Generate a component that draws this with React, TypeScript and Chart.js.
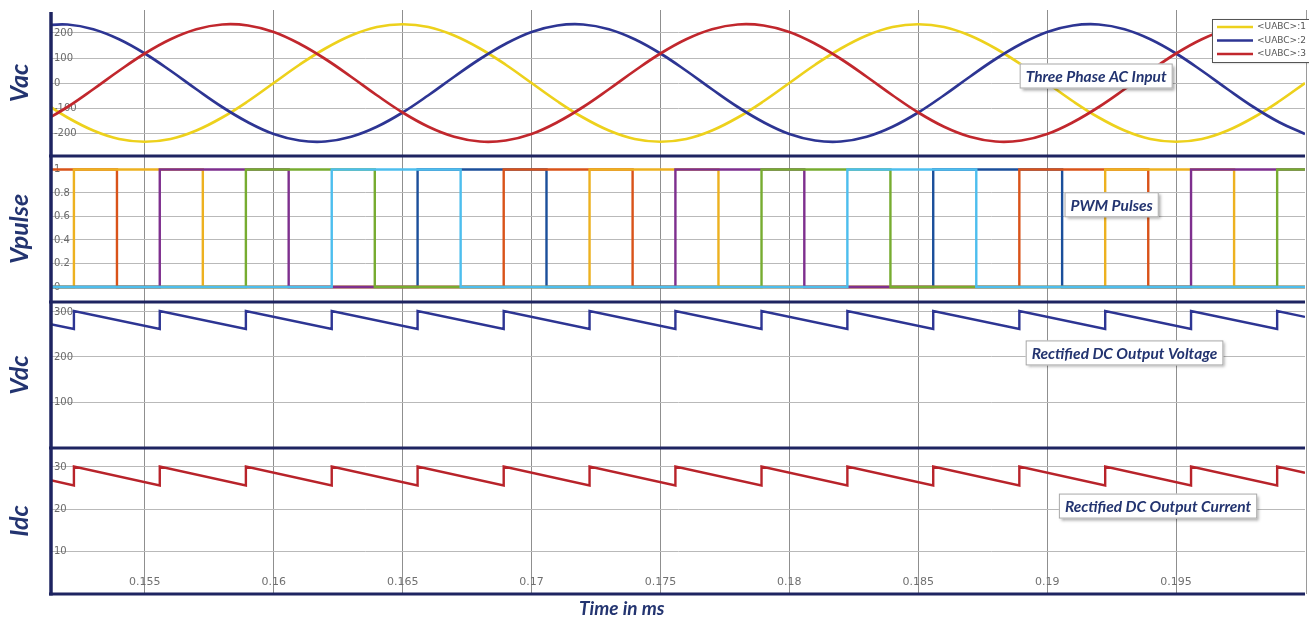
import React, { useEffect, useRef } from "react";
import { Chart, registerables } from "chart.js";

Chart.register(...registerables);

// ---------- data ----------
const timeAxis = [
  0.151, 0.152, 0.153, 0.154, 0.155, 0.156, 0.157, 0.158, 0.159, 0.16,
  0.161, 0.162, 0.163, 0.164, 0.165, 0.166, 0.167, 0.168, 0.169, 0.17,
  0.171, 0.172, 0.173, 0.174, 0.175, 0.176, 0.177, 0.178, 0.179, 0.18,
  0.181, 0.182, 0.183, 0.184, 0.185, 0.186, 0.187, 0.188, 0.189, 0.19,
  0.191, 0.192, 0.193, 0.194, 0.195, 0.196, 0.197, 0.198, 0.199, 0.2,
];
const vacPhase1 = [
  -73, -138, -190, -224, -235, -224, -190, -138, -73, 0,
  73, 138, 190, 224, 235, 224, 190, 138, 73, 0,
  -73, -138, -190, -224, -235, -224, -190, -138, -73, 0,
  73, 138, 190, 224, 235, 224, 190, 138, 73, 0,
  -73, -138, -190, -224, -235, -224, -190, -138, -73, 0,
];
const vacPhase2 = [
  230, 234, 215, 175, 118, 49, -25, -96, -157, -204,
  -230, -234, -215, -175, -118, -49, 25, 96, 157, 204,
  230, 234, 215, 175, 118, 49, -25, -96, -157, -204,
  -230, -234, -215, -175, -118, -49, 25, 96, 157, 204,
  230, 234, 215, 175, 118, 49, -25, -96, -157, -204,
];
const vacPhase3 = [
  -157, -96, -25, 49, 118, 175, 215, 234, 230, 204,
  157, 96, 25, -49, -118, -175, -215, -234, -230, -204,
  -157, -96, -25, 49, 118, 175, 215, 234, 230, 204,
  157, 96, 25, -49, -118, -175, -215, -234, -230, -204,
  -157, -96, -25, 49, 118, 175, 215, 234, 230, 204,
];
const vacLabels = ["<UABC>:1", "<UABC>:2", "<UABC>:3"];

// PWM pulses: switching instants and level at start of window
const pulseOrangeEdges = [0.15225, 0.15725, 0.17225, 0.17725, 0.19225, 0.19725];
const pulseOrangeStart = 0;
const pulseRedEdges = [0.15392, 0.16892, 0.17392, 0.18892, 0.19392];
const pulseRedStart = 1;
const pulsePurpleEdges = [0.15558, 0.16058, 0.17558, 0.18058, 0.19558];
const pulsePurpleStart = 0;
const pulseGreenEdges = [0.15892, 0.16392, 0.17892, 0.18392, 0.19892];
const pulseGreenStart = 0;
const pulseLightBlueEdges = [0.16225, 0.16725, 0.18225, 0.18725];
const pulseLightBlueStart = 0;
const pulseDarkBlueEdges = [0.16558, 0.17058, 0.18558, 0.19058];
const pulseDarkBlueStart = 0;
const pulseWindow = [0.151, 0.2];

// Rectified DC output
const dcTime = [
  0.151, 0.15225, 0.15225, 0.15558, 0.15558, 0.15892, 0.15892, 0.16225, 0.16225,
  0.16558, 0.16558, 0.16892, 0.16892, 0.17225, 0.17225, 0.17558, 0.17558,
  0.17892, 0.17892, 0.18225, 0.18225, 0.18558, 0.18558, 0.18892, 0.18892,
  0.19225, 0.19225, 0.19558, 0.19558, 0.19892, 0.19892, 0.2,
];
const vdcValue = [
  277, 262, 302, 262, 302, 262, 302, 262, 302,
  262, 302, 262, 302, 262, 302, 262, 302,
  262, 302, 262, 302, 262, 302, 262, 302,
  262, 302, 262, 302, 262, 302, 289,
];
const idcValue = [
  27.3, 25.6, 30.1, 25.6, 30.1, 25.6, 30.1, 25.6, 30.1,
  25.6, 30.1, 25.6, 30.1, 25.6, 30.1, 25.6, 30.1,
  25.6, 30.1, 25.6, 30.1, 25.6, 30.1, 25.6, 30.1,
  25.6, 30.1, 25.6, 30.1, 25.6, 30.1, 28.6,
];

// ticks
const xTickValues = [0.155, 0.16, 0.165, 0.17, 0.175, 0.18, 0.185, 0.19, 0.195];
const xTickLabels = ["0.155", "0.16", "0.165", "0.17", "0.175", "0.18", "0.185", "0.19", "0.195"];
const vacTicks = [-200, -100, 0, 100, 200];
const pulseTicks = [0, 0.2, 0.4, 0.6, 0.8, 1];
const vdcTicks = [100, 200, 300];
const idcTicks = [10, 20, 30];

const panelTitles = ["Vac", "Vpulse", "Vdc", "Idc"];
const xTitle = "Time in ms";
const xTitleAt = 0.1735;

const annotationTexts = [
  "Three Phase AC Input",
  "PWM Pulses",
  "Rectified DC Output Voltage",
  "Rectified DC Output Current",
];
const annotationTimes = [0.1919, 0.1925, 0.193, 0.1943];
const annotationValues = [28, 0.7, 209, 20.7];
const annotationAxes = ["yVac", "yPulse", "yVdc", "yIdc"];

// ---------- styling ----------
const NAVY = "#1E2461";
const TITLE_COLOR = "#233470";
const COLORS = {
  yellow: "#EDD11C",
  blue: "#2D3593",
  red: "#C1272D",
  pOrange: "#EDB120",
  pRed: "#D95319",
  pPurple: "#7E2F8E",
  pGreen: "#77AC30",
  pLight: "#4DBEEE",
  pDark: "#1B4F9B",
  vdc: "#2D3593",
  idc: "#B8232A",
};

function stepPoints(edges: number[], start: number) {
  const pts: { x: number; y: number }[] = [{ x: pulseWindow[0], y: start }];
  let cur = start;
  for (const e of edges) {
    pts.push({ x: e, y: cur });
    cur = 1 - cur;
    pts.push({ x: e, y: cur });
  }
  pts.push({ x: pulseWindow[1], y: cur });
  return pts;
}

function zip(xs: number[], ys: number[]) {
  return xs.map((x, i) => ({ x, y: ys[i] }));
}

export default function App() {
  const ref = useRef<HTMLCanvasElement>(null);

  useEffect(() => {
    const canvas = ref.current;
    if (!canvas) return;

    const titleFont = { family: "Lato", size: 25, weight: "bold" as const, style: "italic" as const };
    const tickFont = { family: "DejaVu Sans", size: 10 };

    const yScale = (
      ticks: number[],
      min: number,
      max: number,
      title: string,
      weight: number
    ) => ({
      type: "linear" as const,
      position: "left" as const,
      stack: "panels",
      stackWeight: 1,
      weight,
      min,
      max,
      afterBuildTicks: (s: any) => {
        s.ticks = ticks.map((v) => ({ value: v }));
      },
      afterFit: (s: any) => {
        s.width = 52;
      },
      ticks: {
        mirror: true,
        padding: 2,
        color: "#6a6a6a",
        font: tickFont,
        callback: (v: any) => String(v),
      },
      grid: { color: "#b9b9b9", lineWidth: 1, drawTicks: false },
      border: { display: false },
      title: {
        display: true,
        text: title,
        color: TITLE_COLOR,
        font: titleFont,
        padding: { top: 5, bottom: 0 },
      },
    });

    const overlay = {
      id: "overlay",
      afterDatasetsDraw(chart: any) {
        const { ctx, chartArea: ca, scales } = chart;
        const xs = scales.x;
        ctx.save();

        // x tick labels inside bottom panel
        ctx.fillStyle = "#707070";
        ctx.font = '11px "DejaVu Sans"';
        ctx.textAlign = "center";
        ctx.textBaseline = "middle";
        xTickValues.forEach((v, i) => {
          ctx.fillText(xTickLabels[i], xs.getPixelForValue(v), ca.bottom - 12);
        });

        // right border
        ctx.strokeStyle = "#9a9a9a";
        ctx.lineWidth = 1;
        ctx.beginPath();
        ctx.moveTo(ca.right + 1.5, ca.top);
        ctx.lineTo(ca.right + 1.5, ca.bottom);
        ctx.stroke();

        // panel separators
        ctx.strokeStyle = NAVY;
        ctx.lineWidth = 3;
        const ys = ["yPulse", "yVdc", "yIdc"].map((id) => scales[id].top);
        ys.push(ca.bottom);
        ys.forEach((y: number) => {
          ctx.beginPath();
          ctx.moveTo(ca.left - 3, y);
          ctx.lineTo(ca.right, y);
          ctx.stroke();
        });
        ctx.lineWidth = 3.5;
        ctx.beginPath();
        ctx.moveTo(ca.left - 1, ca.top + 2);
        ctx.lineTo(ca.left - 1, ca.bottom + 1.5);
        ctx.stroke();

        // annotation boxes
        annotationTexts.forEach((text, i) => {
          const cx = xs.getPixelForValue(annotationTimes[i]);
          const cy = scales[annotationAxes[i]].getPixelForValue(annotationValues[i]);
          ctx.font = "italic bold 15.5px Lato";
          const w = ctx.measureText(text).width + 12;
          const h = 25;
          ctx.save();
          ctx.shadowColor = "rgba(0,0,0,0.35)";
          ctx.shadowOffsetX = 2;
          ctx.shadowOffsetY = 2;
          ctx.shadowBlur = 3;
          ctx.fillStyle = "#ffffff";
          ctx.fillRect(cx - w / 2, cy - h / 2, w, h);
          ctx.restore();
          ctx.strokeStyle = "#a8a8a8";
          ctx.lineWidth = 1;
          ctx.strokeRect(cx - w / 2 + 0.5, cy - h / 2 + 0.5, w - 1, h - 1);
          ctx.fillStyle = TITLE_COLOR;
          ctx.textAlign = "center";
          ctx.textBaseline = "middle";
          ctx.fillText(text, cx, cy + 1);
        });

        // legend
        const vacSets = chart.data.datasets.filter((d: any) => d.yAxisID === "yVac");
        const lx = ca.right - 93;
        const ly = ca.top + 9;
        ctx.save();
        ctx.shadowColor = "rgba(0,0,0,0.3)";
        ctx.shadowOffsetX = 1;
        ctx.shadowOffsetY = 1;
        ctx.shadowBlur = 2;
        ctx.fillStyle = "#ffffff";
        ctx.fillRect(lx, ly, 110, 43);
        ctx.restore();
        ctx.strokeStyle = "#555555";
        ctx.lineWidth = 1;
        ctx.strokeRect(lx + 0.5, ly + 0.5, 110, 43);
        vacSets.forEach((d: any, i: number) => {
          const yy = ly + 8 + i * 13.5;
          ctx.strokeStyle = d.borderColor;
          ctx.lineWidth = 2.5;
          ctx.beginPath();
          ctx.moveTo(lx + 5, yy);
          ctx.lineTo(lx + 41, yy);
          ctx.stroke();
          ctx.fillStyle = "#555555";
          ctx.font = '9px "DejaVu Sans"';
          ctx.textAlign = "left";
          ctx.textBaseline = "middle";
          ctx.fillText(d.label, lx + 45, yy);
        });

        // x title
        ctx.fillStyle = TITLE_COLOR;
        ctx.font = "italic bold 19px Lato";
        ctx.textAlign = "center";
        ctx.textBaseline = "middle";
        ctx.fillText(xTitle, xs.getPixelForValue(xTitleAt), ca.bottom + 15);

        ctx.restore();
      },
    };

    const lineBase = { pointRadius: 0, fill: false };

    const chart = new Chart(canvas, {
      type: "line",
      data: {
        datasets: [
          { ...lineBase, label: vacLabels[0], data: zip(timeAxis, vacPhase1), yAxisID: "yVac", borderColor: COLORS.yellow, borderWidth: 2.7, tension: 0.4, order: 2 },
          { ...lineBase, label: vacLabels[1], data: zip(timeAxis, vacPhase2), yAxisID: "yVac", borderColor: COLORS.blue, borderWidth: 2.7, tension: 0.4, order: 1 },
          { ...lineBase, label: vacLabels[2], data: zip(timeAxis, vacPhase3), yAxisID: "yVac", borderColor: COLORS.red, borderWidth: 2.7, tension: 0.4, order: 0 },
          { ...lineBase, label: "g6", data: stepPoints(pulseLightBlueEdges, pulseLightBlueStart), yAxisID: "yPulse", borderColor: COLORS.pLight, borderWidth: 2.4, order: 10 },
          { ...lineBase, label: "g5", data: stepPoints(pulseGreenEdges, pulseGreenStart), yAxisID: "yPulse", borderColor: COLORS.pGreen, borderWidth: 2.4, order: 11 },
          { ...lineBase, label: "g4", data: stepPoints(pulsePurpleEdges, pulsePurpleStart), yAxisID: "yPulse", borderColor: COLORS.pPurple, borderWidth: 2.4, order: 12 },
          { ...lineBase, label: "g3", data: stepPoints(pulseOrangeEdges, pulseOrangeStart), yAxisID: "yPulse", borderColor: COLORS.pOrange, borderWidth: 2.4, order: 13 },
          { ...lineBase, label: "g2", data: stepPoints(pulseRedEdges, pulseRedStart), yAxisID: "yPulse", borderColor: COLORS.pRed, borderWidth: 2.4, order: 14 },
          { ...lineBase, label: "g1", data: stepPoints(pulseDarkBlueEdges, pulseDarkBlueStart), yAxisID: "yPulse", borderColor: COLORS.pDark, borderWidth: 2.4, order: 15 },
          { ...lineBase, label: "Vdc", data: zip(dcTime, vdcValue), yAxisID: "yVdc", borderColor: COLORS.vdc, borderWidth: 2.4, order: 20 },
          { ...lineBase, label: "Idc", data: zip(dcTime, idcValue), yAxisID: "yIdc", borderColor: COLORS.idc, borderWidth: 2.4, order: 21 },
        ],
      },
      options: {
        animation: false,
        responsive: true,
        maintainAspectRatio: false,
        devicePixelRatio: 1,
        events: [],
        layout: { padding: { top: 10, right: 4, left: 0, bottom: 0 } },
        plugins: {
          legend: { display: false },
          tooltip: { enabled: false },
          title: { display: false },
        },
        scales: {
          x: {
            type: "linear",
            min: 0.1514,
            max: 0.2,
            afterBuildTicks: (s: any) => {
              s.ticks = xTickValues.map((v) => ({ value: v }));
            },
            afterFit: (s: any) => {
              s.height = 27;
            },
            ticks: { display: false },
            grid: { color: "#8f8f8f", lineWidth: 1, drawTicks: false },
            border: { display: false },
          },
          yIdc: yScale(idcTicks, -0.2, 34.5, panelTitles[3], 1),
          yVdc: yScale(vdcTicks, -2, 322, panelTitles[2], 2),
          yPulse: yScale(pulseTicks, -0.128, 1.115, panelTitles[1], 3),
          yVac: yScale(vacTicks, -292, 292, panelTitles[0], 4),
        } as any,
      },
      plugins: [overlay],
    } as any);

    return () => chart.destroy();
  }, []);

  return (
    <div
      style={{
        position: "fixed",
        left: 0,
        top: 0,
        width: 1309,
        height: 621,
        background: "#ffffff",
      }}
    >
      <canvas ref={ref} />
    </div>
  );
}
